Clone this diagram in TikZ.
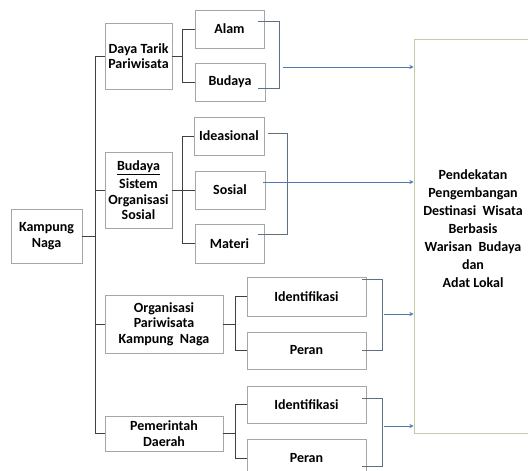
\documentclass[tikz,border=0pt]{standalone}
\usepackage{fontspec}
\setmainfont{Carlito}
\definecolor{garisbox}{HTML}{A6A6A6}
\definecolor{garis}{HTML}{404040}
\definecolor{kurung}{HTML}{5F6F85}
\definecolor{biru}{HTML}{4F77B0}
\definecolor{hijau}{HTML}{C3CCA6}
\begin{document}
\begin{tikzpicture}[x=1pt, y=-1pt, >=stealth,
  kotak/.style={draw=garisbox, line width=0.8pt, align=center, inner sep=1pt,
    font=\fontsize{14}{15.5}\selectfont\bfseries},
  hubung/.style={draw=garis, line width=1pt},
  tutup/.style={draw=kurung, line width=0.9pt},
  panah/.style={->, draw=biru, line width=0.9pt}]
  \useasboundingbox (0,0) rectangle (528,471);
  \begin{scope}
  \clip (0,0) rectangle (528,471);
  % kolom kiri
  \node[kotak, minimum width=71pt, minimum height=54pt] (kampung) at (46.5,236) {Kampung\\Naga};
  \node[kotak, minimum width=67pt, minimum height=66pt] (daya) at (138.5,56) {Daya Tarik\\Pariwisata};
  \node[kotak, minimum width=67pt, minimum height=76pt] (sistem) at (138.5,190) {\underline{Budaya}\\[3pt]Sistem\\Organisasi\\Sosial};
  \node[kotak, minimum width=118pt, minimum height=58pt] (organisasi) at (164,324) {Organisasi\\Pariwisata\\Kampung~~Naga};
  \node[kotak, minimum width=118pt, minimum height=35pt] (pemerintah) at (164,433.5) {Pemerintah\\Daerah};
  % kolom tengah
  \node[kotak, minimum width=69pt, minimum height=38pt] (alam) at (229.5,29) {Alam};
  \node[kotak, minimum width=70pt, minimum height=38pt] (budaya) at (230,82) {Budaya};
  \node[kotak, minimum width=70pt, minimum height=38pt] (ideasional) at (229,136) {Ideasional};
  \node[kotak, minimum width=70pt, minimum height=38pt] (sosial) at (230,190) {Sosial};
  \node[kotak, minimum width=69pt, minimum height=39pt] (materi) at (229.5,243.5) {Materi};
  \node[kotak, minimum width=119pt, minimum height=39pt] (identa) at (306.5,296.5) {Identifikasi};
  \node[kotak, minimum width=119pt, minimum height=37pt] (perana) at (306.5,350.5) {Peran};
  \node[kotak, minimum width=119pt, minimum height=37pt] (identb) at (306.5,404.5) {Identifikasi};
  \node[kotak, minimum width=119pt, minimum height=39pt] (peranb) at (306.5,458.5) {Peran};
  % tujuan
  \node[draw=hijau, line width=0.8pt, minimum width=118pt, minimum height=394pt] (tujuan) at (473,236) {};
  \node[align=center, font=\fontsize{14}{18}\selectfont\bfseries] (tujuanteks) at ([yshift=7pt]tujuan.center)
    {Pendekatan\\Pengembangan\\Destinasi~ Wisata\\Berbasis\\Warisan~ Budaya\\dan\\Adat Lokal};
  % batang utama
  \draw[hubung] (kampung.east) -- ++(14,0);
  \draw[hubung] (daya.west) -- ++(-9,0) |- (pemerintah.west);
  \draw[hubung] (sistem.west) -- ++(-9,0);
  \draw[hubung] (organisasi.west) -- ++(-9,0);
  % cabang
  \draw[hubung] (daya.east) -- ++(11,0);
  \draw[hubung] (alam.west) -- ++(-12,0) |- (budaya.west);
  \draw[hubung] (sistem.east) -- (sosial.west);
  \draw[hubung] (ideasional.west) -- ++(-11,0) |- (materi.west);
  \draw[hubung] (organisasi.east) -- ++(13,0);
  \draw[hubung] (identa.west) -- ++(-11,0) |- (perana.west);
  \draw[hubung] (pemerintah.east) -- ++(13,0);
  \draw[hubung] (identb.west) -- ++(-11,0) |- (peranb.west);
  % kurung
  \draw[tutup] ([xshift=-6pt, yshift=8pt]alam.east) -- ++(21,0) |- ([xshift=-7pt, yshift=-6pt]budaya.east);
  \draw[tutup] ([xshift=4pt, yshift=3pt]ideasional.east) -- ++(19,0) |- ([xshift=-6pt, yshift=9.5pt]materi.east);
  \draw[tutup] ([xshift=-4pt, yshift=17.5pt]identa.east) -- ++(20,0) |- ([xshift=-4pt]perana.east);
  \draw[tutup] ([xshift=-4pt, yshift=6.5pt]identb.east) -- ++(20,0) |- ([xshift=-4pt, yshift=-7.5pt]peranb.east);
  % panah ke tujuan
  \coordinate (pa) at (283,67);
  \coordinate (pb) at ([xshift=-2pt, yshift=8pt]sosial.east);
  \coordinate (pc) at (384,314);
  \coordinate (pd) at (384,426);
  \draw[panah] (pa) -- (pa -| tujuan.west);
  \draw[panah] (pb) -- (pb -| tujuan.west);
  \draw[panah] (pc) -- (pc -| tujuan.west);
  \draw[panah] (pd) -- (pd -| tujuan.west);
  \end{scope}
\end{tikzpicture}
\end{document}
